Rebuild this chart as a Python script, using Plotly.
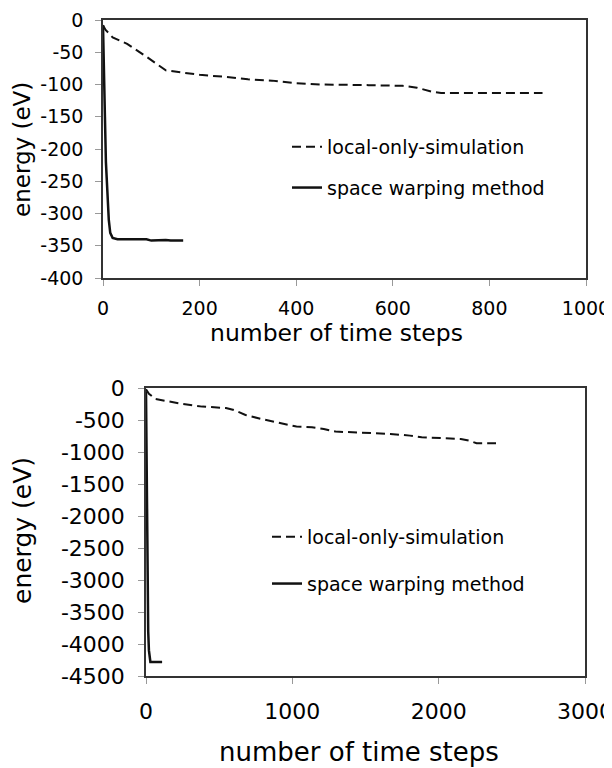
import plotly.graph_objects as go
from plotly.subplots import make_subplots

# top chart: small system
top_local_x = [0, 5, 20, 50, 90, 130, 160, 200, 250, 300, 350, 400, 450, 500, 550, 620, 650, 680, 700, 800, 910]
top_local_y = [-8, -15, -27, -37, -57, -78, -81, -85, -88, -92, -94, -98, -100, -100, -101, -102, -105, -111, -113, -113, -113]
top_warp_x = [0, 2, 4, 6, 8, 10, 12, 15, 20, 30, 50, 90, 100, 130, 140, 166]
top_warp_y = [-8, -60, -150, -220, -250, -290, -310, -330, -338, -340, -340, -340, -342, -341, -342, -342]
top_yticks = [0, -50, -100, -150, -200, -250, -300, -350, -400]

# bottom chart: large system
bot_local_x = [0, 20, 64, 145, 252, 385, 546, 600, 680, 787, 921, 1028, 1134, 1215, 1295, 1402, 1670, 1804, 1884, 2151, 2205, 2259, 2392]
bot_local_y = [-20, -90, -172, -208, -250, -291, -312, -343, -421, -484, -551, -603, -614, -640, -681, -692, -718, -744, -770, -796, -822, -863, -863]
bot_warp_x = [0, 3, 6, 10, 15, 20, 25, 30, 40, 60, 80, 110]
bot_warp_y = [-50, -800, -2100, -3000, -3800, -4100, -4200, -4280, -4280, -4280, -4280, -4280]
bot_yticks = [0, -500, -1000, -1500, -2000, -2500, -3000, -3500, -4000, -4500]

FONT = "DejaVu Sans"
INK = "#111111"

# page has an 8px body margin, so the figure is a bit smaller and offset
OFF = 8
W, H = 612 - OFF, 768 - OFF


def px(x):
    return (x - OFF) / W


def py(y):
    return 1 - (y - OFF) / H


fig = make_subplots(rows=2, cols=1)

fig.add_trace(go.Scatter(x=top_local_x, y=top_local_y, mode='lines', name='local-only-simulation',
                         line=dict(color=INK, width=2, dash='9px,5px'), legend='legend', legendgroup='a'), row=1, col=1)
fig.add_trace(go.Scatter(x=top_warp_x, y=top_warp_y, mode='lines', name='space warping method',
                         line=dict(color=INK, width=2.5), legend='legend', legendgroup='b'), row=1, col=1)
fig.add_trace(go.Scatter(x=bot_local_x, y=bot_local_y, mode='lines', name='local-only-simulation',
                         line=dict(color=INK, width=2, dash='9px,5px'), legend='legend2', legendgroup='c'), row=2, col=1)
fig.add_trace(go.Scatter(x=bot_warp_x, y=bot_warp_y, mode='lines', name='space warping method',
                         line=dict(color=INK, width=2.5), legend='legend2', legendgroup='d'), row=2, col=1)

axis_common = dict(showgrid=False, zeroline=False, showline=True, mirror=True, linecolor='#333333', linewidth=1.5,
                   ticks='outside', ticklen=6, tickcolor='#999999', tickfont=dict(color='black'), automargin=False)

fig.update_xaxes(axis_common, ticklabeloverflow='allow')
fig.update_yaxes(axis_common)

fig.update_xaxes(range=[0, 1000], dtick=200, domain=[px(103), px(586)], tickfont_size=19,
                 ticklabelstandoff=6, row=1, col=1)
fig.update_yaxes(range=[-400, 0], tickvals=top_yticks, ticktext=[str(v) for v in top_yticks],
                 domain=[py(278), py(20)], tickfont_size=19, ticklabelstandoff=8, row=1, col=1)
fig.update_xaxes(range=[0, 3000], dtick=1000, domain=[px(146), px(585)], tickfont_size=22,
                 ticklabelstandoff=9, row=2, col=1)
fig.update_yaxes(range=[-4500, 0], tickvals=bot_yticks, ticktext=[str(v) for v in bot_yticks],
                 domain=[py(676), py(388)], tickfont_size=22, ticklabelstandoff=9, row=2, col=1)

annos = [
    dict(text='number of time steps', x=336, y=333, size=23.5, angle=0),
    dict(text='energy (eV)', x=22, y=150, size=23, angle=-90),
    dict(text='number of time steps', x=359, y=752, size=26, angle=0),
    dict(text='energy (eV)', x=22, y=531, size=25, angle=-90),
]
for a in annos:
    fig.add_annotation(text=a['text'], x=px(a['x']), y=py(a['y']), textangle=a['angle'],
                       xref='paper', yref='paper', showarrow=False, xanchor='center', yanchor='middle',
                       font=dict(size=a['size'], family=FONT, color='black'))

fig.update_layout(
    width=W, height=H,
    margin=dict(l=0, r=0, t=0, b=0),
    paper_bgcolor='white', plot_bgcolor='white',
    font=dict(family=FONT, color='black'),
    legend=dict(x=px(287), y=py(128), xanchor='left', yanchor='top', bgcolor='rgba(0,0,0,0)',
                font=dict(size=19), tracegroupgap=13, traceorder='grouped', itemwidth=30),
    legend2=dict(x=px(267), y=py(518), xanchor='left', yanchor='top', bgcolor='rgba(0,0,0,0)',
                 font=dict(size=19), tracegroupgap=19, traceorder='grouped', itemwidth=30),
)

fig.write_html("out.html")
